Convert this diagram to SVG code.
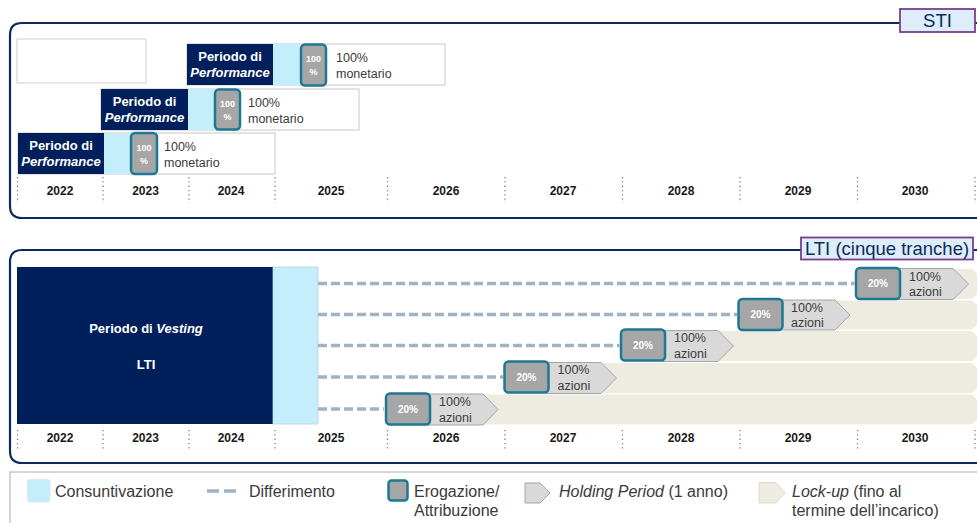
<svg xmlns="http://www.w3.org/2000/svg" width="977" height="523" viewBox="0 0 977 523">
<defs>
<style>
text{font-family:"Liberation Sans","DejaVu Sans",sans-serif}
.frame{fill:none;stroke:#0e2a5c;stroke-width:2.2}
.tag{fill:#ddeefa;stroke:#7a3d8c;stroke-width:1.8}
.tagt{font-size:18.5px;fill:#0e2a5c;text-anchor:middle}
.navy{fill:#001f5b}
.cons{fill:#c4eefc}
.outer{fill:#fff;stroke:#c8c8c8;stroke-width:1}
.ero{fill:#a6a6a6;stroke:#1d7893;stroke-width:2.5}
.pw{font-size:13px;font-weight:bold;fill:#fff;text-anchor:middle}
.small{font-size:9px;font-weight:bold;fill:#fff;text-anchor:middle}
.pct{font-size:10px;font-weight:bold;fill:#fff;text-anchor:middle}
.lbl{font-size:12.5px;fill:#3a3a3a}
.yr{font-size:12px;font-weight:bold;fill:#1a1a1a;text-anchor:middle}
.sep{stroke:#808080;stroke-width:1.3;stroke-dasharray:1.3 3}
.dash{stroke:#9fb3c2;stroke-width:3.5;stroke-dasharray:9 4;fill:none}
.hold{fill:#d9d9d9;stroke:#a6a6a6;stroke-width:1}
.lock{fill:#eeece1;stroke:#fff;stroke-width:1}
.leg{font-size:16px;fill:#3a3a3a}
</style>
</defs>

<!-- STI panel -->
<g id="sti-panel">
<path class="frame" d="M 990 23 H 22 Q 10 23 10 35 V 206 Q 10 218 22 218 H 990"/>
<rect class="tag" x="900" y="9" width="75" height="23"/>
<text class="tagt" x="937.5" y="27">STI</text>
<rect x="17" y="39" width="129" height="44" fill="#fff" stroke="#d0d0d0" stroke-width="1"/>
</g>

<g id="sti-2024">
<rect class="outer" x="187" y="44" width="258" height="41"/>
<rect class="navy" x="187" y="44" width="86" height="41"/>
<rect class="cons" x="273" y="44" width="27" height="41"/>
<rect class="ero" x="301" y="44.5" width="25" height="41" rx="4"/>
<text class="small" x="313.5" y="62">100</text>
<text class="small" x="313.5" y="75">%</text>
<text class="pw" x="230" y="61">Periodo di</text>
<text class="pw" x="230" y="77" font-style="italic">Performance</text>
<text class="lbl" x="336" y="62">100%</text>
<text class="lbl" x="336" y="78">monetario</text>
</g>

<g id="sti-2023">
<rect class="outer" x="101" y="89" width="258" height="41"/>
<rect class="navy" x="101" y="89" width="87" height="41"/>
<rect class="cons" x="188" y="89" width="26" height="41"/>
<rect class="ero" x="215" y="89.5" width="25" height="40" rx="4"/>
<text class="small" x="227.5" y="107">100</text>
<text class="small" x="227.5" y="120">%</text>
<text class="pw" x="144.5" y="106">Periodo di</text>
<text class="pw" x="144.5" y="122" font-style="italic">Performance</text>
<text class="lbl" x="248" y="107">100%</text>
<text class="lbl" x="248" y="123">monetario</text>
</g>

<g id="sti-2022">
<rect class="outer" x="18" y="133" width="257" height="41"/>
<rect class="navy" x="18" y="133" width="86" height="41"/>
<rect class="cons" x="104" y="133" width="26" height="41"/>
<rect class="ero" x="131" y="133" width="26" height="41" rx="4"/>
<text class="small" x="144" y="150.5">100</text>
<text class="small" x="144" y="163.5">%</text>
<text class="pw" x="61" y="150">Periodo di</text>
<text class="pw" x="61" y="166" font-style="italic">Performance</text>
<text class="lbl" x="164" y="151">100%</text>
<text class="lbl" x="164" y="167">monetario</text>
</g>

<g id="sti-axis">
<line class="sep" x1="17.5" y1="177" x2="17.5" y2="203"/>
<line class="sep" x1="103" y1="177" x2="103" y2="203"/>
<line class="sep" x1="189" y1="177" x2="189" y2="203"/>
<line class="sep" x1="275" y1="177" x2="275" y2="203"/>
<line class="sep" x1="387.5" y1="177" x2="387.5" y2="203"/>
<line class="sep" x1="505" y1="177" x2="505" y2="203"/>
<line class="sep" x1="622.5" y1="177" x2="622.5" y2="203"/>
<line class="sep" x1="740" y1="177" x2="740" y2="203"/>
<line class="sep" x1="857.5" y1="177" x2="857.5" y2="203"/>
<line class="sep" x1="975" y1="177" x2="975" y2="203"/>
<text class="yr" x="60" y="194.5">2022</text>
<text class="yr" x="145.5" y="194.5">2023</text>
<text class="yr" x="231" y="194.5">2024</text>
<text class="yr" x="331" y="194.5">2025</text>
<text class="yr" x="446" y="194.5">2026</text>
<text class="yr" x="563" y="194.5">2027</text>
<text class="yr" x="681" y="194.5">2028</text>
<text class="yr" x="798" y="194.5">2029</text>
<text class="yr" x="915" y="194.5">2030</text>
</g>

<!-- LTI panel -->
<g id="lti-panel">
<path class="frame" d="M 990 250 H 22 Q 10 250 10 262 V 451 Q 10 463 22 463 H 990"/>
<rect class="tag" x="801" y="237.5" width="172" height="22"/>
<text class="tagt" x="887" y="255">LTI (cinque tranche)</text>
</g>

<g id="lti-lockup">
<polygon class="lock" points="431,394 972,394 988,409.5 972,425 431,425"/>
<polygon class="lock" points="549,362.5 972,362.5 988,378 972,393.5 549,393.5"/>
<polygon class="lock" points="665,330.5 972,330.5 988,346 972,361.5 665,361.5"/>
<polygon class="lock" points="783,300 972,300 988,315 972,330 783,330"/>
<polygon class="lock" points="900,268.5 972,268.5 988,284 972,299.5 900,299.5"/>
</g>

<g id="lti-vesting">
<rect class="navy" x="17" y="267" width="256" height="157"/>
<rect class="cons" x="273" y="267" width="45" height="157" stroke="#b9d3dc" stroke-width="0.8"/>
<text class="pw" x="146" y="333">Periodo di <tspan font-style="italic">Vesting</tspan></text>
<text class="pw" x="146" y="368.5" font-size="15">LTI</text>
</g>

<g id="connectors">
<line class="dash" x1="318" y1="409" x2="384" y2="409"/>
<line class="dash" x1="318" y1="377" x2="503" y2="377"/>
<line class="dash" x1="318" y1="345.5" x2="619.5" y2="345.5"/>
<line class="dash" x1="318" y1="314.5" x2="737" y2="314.5"/>
<line class="dash" x1="318" y1="283.5" x2="854.5" y2="283.5"/>
</g>

<g id="tranche-2026">
<polygon class="hold" points="428,394 483,394 498,409.5 483,425 428,425"/>
<rect class="ero" x="386" y="393.5" width="44" height="31" rx="4"/>
<text class="pct" x="408" y="412.5">20%</text>
<text class="lbl" x="439" y="406">100%</text>
<text class="lbl" x="439" y="421.5">azioni</text>
</g>
<g id="tranche-2027">
<polygon class="hold" points="546,362.5 601,362.5 616.5,378 601,393.5 546,393.5"/>
<rect class="ero" x="504.5" y="361.5" width="44" height="31" rx="4"/>
<text class="pct" x="526.5" y="380.5">20%</text>
<text class="lbl" x="557.5" y="374">100%</text>
<text class="lbl" x="557.5" y="389.5">azioni</text>
</g>
<g id="tranche-2028">
<polygon class="hold" points="662,330.5 718,330.5 733.5,346 718,361.5 662,361.5"/>
<rect class="ero" x="621" y="329.5" width="44" height="31" rx="4"/>
<text class="pct" x="643" y="348.5">20%</text>
<text class="lbl" x="674" y="342">100%</text>
<text class="lbl" x="674" y="357.5">azioni</text>
</g>
<g id="tranche-2029">
<polygon class="hold" points="780,300 835,300 850,315 835,330 780,330"/>
<rect class="ero" x="738.5" y="299" width="44" height="31" rx="4"/>
<text class="pct" x="760.5" y="318">20%</text>
<text class="lbl" x="791" y="311.5">100%</text>
<text class="lbl" x="791" y="327">azioni</text>
</g>
<g id="tranche-2030">
<polygon class="hold" points="897,268.5 953,268.5 968.5,284 953,299.5 897,299.5"/>
<rect class="ero" x="856" y="268" width="44" height="31" rx="4"/>
<text class="pct" x="878" y="287">20%</text>
<text class="lbl" x="909" y="280.5">100%</text>
<text class="lbl" x="909" y="296">azioni</text>
</g>

<g id="lti-axis">
<line class="sep" x1="17.5" y1="430" x2="17.5" y2="450"/>
<line class="sep" x1="103" y1="430" x2="103" y2="450"/>
<line class="sep" x1="189" y1="430" x2="189" y2="450"/>
<line class="sep" x1="275" y1="430" x2="275" y2="450"/>
<line class="sep" x1="387.5" y1="430" x2="387.5" y2="450"/>
<line class="sep" x1="505" y1="430" x2="505" y2="450"/>
<line class="sep" x1="622.5" y1="430" x2="622.5" y2="450"/>
<line class="sep" x1="740" y1="430" x2="740" y2="450"/>
<line class="sep" x1="857.5" y1="430" x2="857.5" y2="450"/>
<line class="sep" x1="975" y1="430" x2="975" y2="450"/>
<text class="yr" x="60" y="442">2022</text>
<text class="yr" x="145.5" y="442">2023</text>
<text class="yr" x="231" y="442">2024</text>
<text class="yr" x="331" y="442">2025</text>
<text class="yr" x="446" y="442">2026</text>
<text class="yr" x="563" y="442">2027</text>
<text class="yr" x="681" y="442">2028</text>
<text class="yr" x="798" y="442">2029</text>
<text class="yr" x="915" y="442">2030</text>
</g>

<!-- Legend -->
<g id="legend">
<rect x="10" y="472" width="990" height="70" fill="#fff" stroke="#c0c0c0" stroke-width="1.3"/>
<rect class="cons" x="27.5" y="479.5" width="22.5" height="22.5" rx="2" stroke="#d6e6ec" stroke-width="0.8"/>
<text class="leg" x="55" y="497">Consuntivazione</text>
<line x1="207" y1="491" x2="238" y2="491" stroke="#9fb3c2" stroke-width="3.5" stroke-dasharray="12 5"/>
<text class="leg" x="249" y="497">Differimento</text>
<rect class="ero" x="388.5" y="480.5" width="19" height="20" rx="3"/>
<text class="leg" x="414" y="497">Erogazione/</text>
<text class="leg" x="414" y="516">Attribuzione</text>
<polygon class="hold" points="525,483 540,483 550,493 540,503 525,503"/>
<text class="leg" x="559" y="497"><tspan font-style="italic">Holding Period</tspan> (1 anno)</text>
<polygon points="759,482.5 776,482.5 785,493 776,503 759,503" fill="#eeece1" stroke="#d8d6c8" stroke-width="0.8"/>
<text class="leg" x="792" y="497"><tspan font-style="italic">Lock-up</tspan> (fino al</text>
<text class="leg" x="792" y="516">termine dell’incarico)</text>
</g>
</svg>
